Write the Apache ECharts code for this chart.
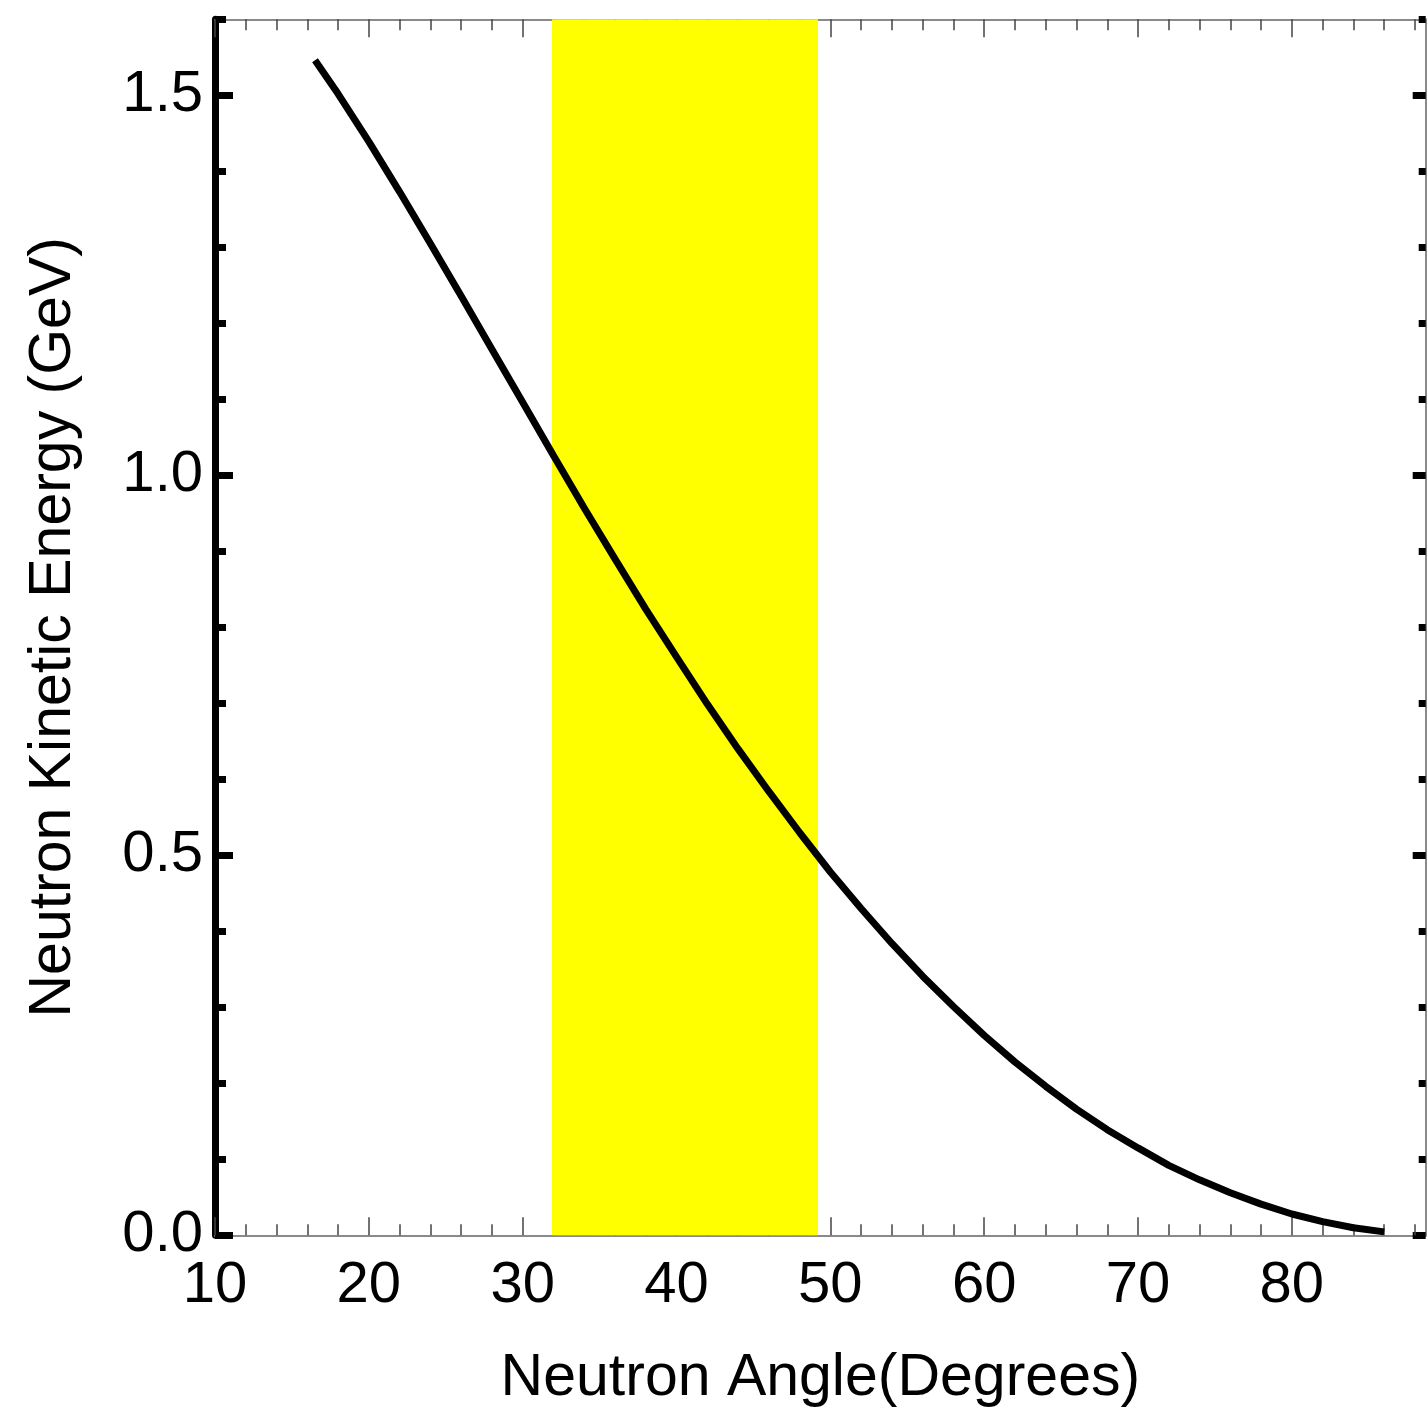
<!DOCTYPE html>
<html>
<head>
<meta charset="utf-8">
<script src="https://cdn.jsdelivr.net/npm/echarts@6/dist/echarts.min.js"></script>
<style>
html,body{margin:0;padding:0;background:#fff;}
#chart{width:1428px;height:1409px;}
</style>
</head>
<body>
<div id="chart"></div>
<script>
// Curve: neutron angle (degrees) vs neutron kinetic energy (GeV)
const angles = [16.5, 18, 20, 22, 24, 26, 28, 30, 32, 34, 36, 38, 40, 42, 44, 46, 48, 50,
  52, 54, 56, 58, 60, 62, 64, 66, 68, 70, 72, 74, 76, 78, 80, 82, 84, 86];
const energies = [1.546, 1.502, 1.439, 1.373, 1.305, 1.236, 1.166, 1.096, 1.026, 0.957, 0.890,
  0.824, 0.761, 0.699, 0.640, 0.584, 0.530, 0.478, 0.430, 0.384, 0.341, 0.301, 0.263, 0.228,
  0.196, 0.166, 0.139, 0.115, 0.092, 0.073, 0.056, 0.041, 0.028, 0.018, 0.010, 0.0045];

// Highlighted angular band
const bandRange = [31.9, 49.2];

// Axis ticks
const xMajorTicks = [10, 20, 30, 40, 50, 60, 70, 80];
const xMinorTicks = [12, 14, 16, 18, 22, 24, 26, 28, 32, 34, 36, 38, 42, 44, 46, 48, 52, 54, 56, 58,
  62, 64, 66, 68, 72, 74, 76, 78, 82, 84, 86, 88];
const yMajorTicks = [0, 0.5, 1.0, 1.5];
const yMinorTicks = [0.1, 0.2, 0.3, 0.4, 0.6, 0.7, 0.8, 0.9, 1.1, 1.2, 1.3, 1.4, 1.6];

const xRange = [10, 88.7];
const yRange = [0, 1.6];

const FONT = "'Liberation Sans', Arial, sans-serif";
const GRAY = '#8a8a8a';
const TICKGRAY = '#444';

function xAxisDef(pos, ticks, len, showLine, showLabel, extra) {
  return Object.assign({
    type: 'value', position: pos, min: xRange[0], max: xRange[1],
    splitLine: { show: false },
    axisLine: { show: showLine, onZero: false, lineStyle: { color: GRAY, width: 2 } },
    axisTick: { show: true, inside: true, length: len, customValues: ticks,
      lineStyle: { color: TICKGRAY, width: 1.5 } },
    axisLabel: { show: showLabel, customValues: ticks, color: '#000', fontSize: 58,
      fontFamily: FONT, margin: 22, formatter: v => String(Math.round(v)) }
  }, extra || {});
}
function yAxisDef(pos, ticks, len, lineColor, lineWidth, showLine, showLabel, extra) {
  return Object.assign({
    type: 'value', position: pos, min: yRange[0], max: yRange[1],
    splitLine: { show: false },
    axisLine: { show: showLine, onZero: false, lineStyle: { color: lineColor, width: lineWidth } },
    axisTick: { show: true, inside: true, length: len, customValues: ticks,
      lineStyle: { color: '#000', width: 7 } },
    axisLabel: { show: showLabel, customValues: ticks, color: '#000', fontSize: 58,
      fontFamily: FONT, margin: 12, formatter: v => v.toFixed(1) }
  }, extra || {});
}

const chart = echarts.init(document.getElementById('chart'), null, { renderer: 'canvas' });
chart.setOption({
  animation: false,
  backgroundColor: '#fff',
  grid: { left: 215, right: 2.3, top: 19.3, bottom: 173.7, containLabel: false, outerBoundsMode: 'none' },
  xAxis: [
    xAxisDef('bottom', xMajorTicks, 18, true, true, {
      name: 'Neutron Angle(Degrees)', nameLocation: 'middle', nameGap: 114,
      nameTextStyle: { fontSize: 59, fontFamily: FONT, color: '#000' }
    }),
    xAxisDef('bottom', xMinorTicks, 11, false, false),
    xAxisDef('top', xMajorTicks, 18, true, false),
    xAxisDef('top', xMinorTicks, 11, false, false)
  ],
  yAxis: [
    yAxisDef('left', yMajorTicks, 18, '#000', 7, true, true, {
      name: 'Neutron Kinetic Energy (GeV)', nameLocation: 'middle', nameGap: 132,
      nameTextStyle: { fontSize: 59, fontFamily: FONT, color: '#000' }
    }),
    yAxisDef('left', yMinorTicks, 11, '#000', 7, false, false),
    yAxisDef('right', yMajorTicks, 13, GRAY, 2, true, false),
    yAxisDef('right', yMinorTicks, 7, GRAY, 2, false, false)
  ],
  series: [{
    type: 'line',
    xAxisIndex: 0, yAxisIndex: 0,
    data: angles.map((a, i) => [a, energies[i]]),
    showSymbol: false, symbol: 'none', smooth: false,
    lineStyle: { color: '#000', width: 7 },
    z: 3,
    markArea: {
      silent: true,
      itemStyle: { color: '#ffff00', opacity: 1, borderWidth: 0 },
      data: [[{ xAxis: bandRange[0] }, { xAxis: bandRange[1] }]]
    }
  }]
});
</script>
</body>
</html>
